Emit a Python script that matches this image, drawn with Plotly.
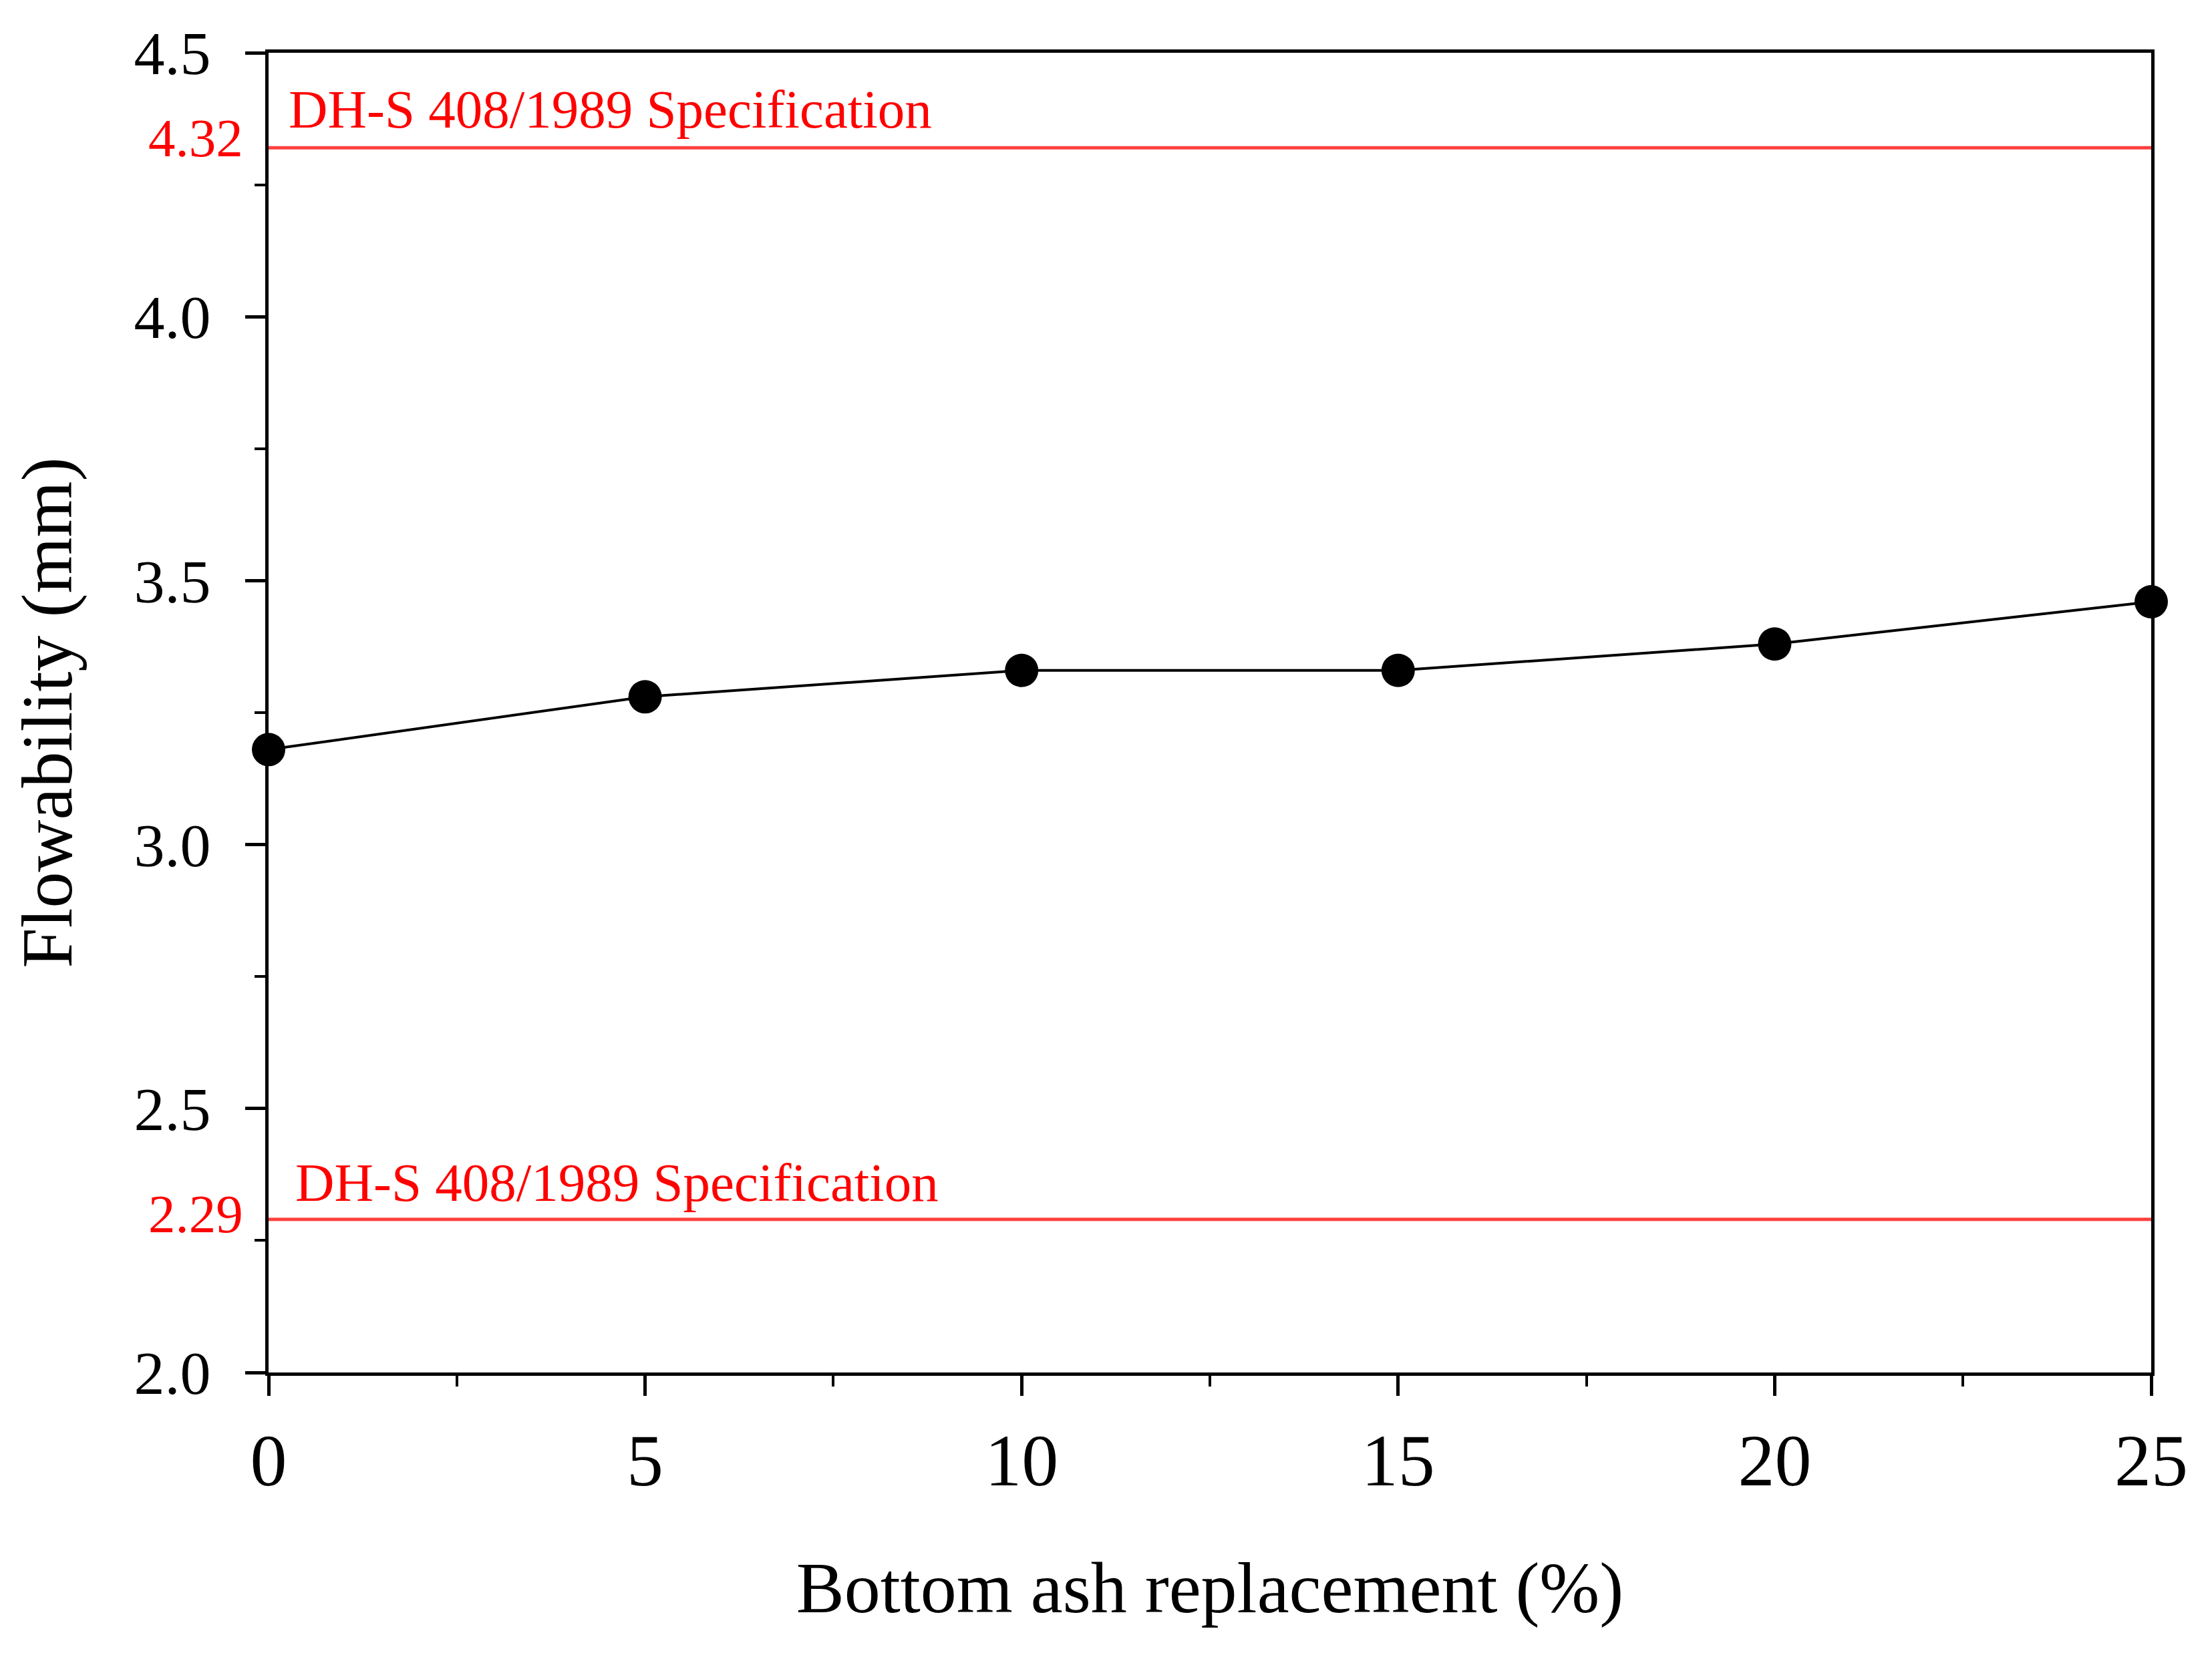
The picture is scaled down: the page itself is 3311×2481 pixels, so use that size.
import plotly.graph_objects as go

replacement = [0, 5, 10, 15, 20, 25]
flowability = [3.18, 3.28, 3.33, 3.33, 3.38, 3.46]
spec_limits = [4.32, 2.29]
spec_labels = ["4.32", "2.29"]
spec_text = "DH-S 408/1989 Specification"
x_title = "Bottom ash replacement (%)"
y_title = "Flowability (mm)"

FONT = "Liberation Serif, Times New Roman, serif"
RED_LINE = "#FF4040"
RED_TEXT = "#FF0000"

fig = go.Figure()
fig.add_trace(go.Scatter(
    x=replacement, y=flowability, mode="lines+markers",
    line=dict(color="black", width=4),
    marker=dict(color="black", size=50, line=dict(width=0)),
    cliponaxis=False, showlegend=False,
))

label_yshift = [14, 8]
text_xshift = [28, 38]
text_yshift = [10, 8]
for i, (val, lab) in enumerate(zip(spec_limits, spec_labels)):
    fig.add_shape(type="line", xref="paper", x0=0, x1=1, yref="y", y0=val, y1=val,
                  line=dict(color=RED_LINE, width=5), layer="below")
    fig.add_annotation(xref="paper", x=0, yref="y", y=val, text=lab, showarrow=False,
                       xanchor="right", yanchor="middle", xshift=-36, yshift=label_yshift[i],
                       font=dict(family=FONT, size=81, color=RED_TEXT))
    fig.add_annotation(xref="paper", x=0, yref="y", y=val, text=spec_text, showarrow=False,
                       xanchor="left", yanchor="bottom", xshift=text_xshift[i], yshift=text_yshift[i],
                       font=dict(family=FONT, size=81, color=RED_TEXT))

fig.update_layout(
    width=3311, height=2481,
    margin=dict(l=394, r=99, t=71, b=434),
    paper_bgcolor="white", plot_bgcolor="white",
    font=dict(family=FONT, color="black"),
)
fig.update_xaxes(
    range=[0, 25], tickvals=[0, 5, 10, 15, 20, 25], ticktext=["0", "5", "10", "15", "20", "25"],
    ticks="outside", ticklen=30, tickwidth=5, tickcolor="black",
    minor=dict(dtick=2.5, ticks="outside", ticklen=16, tickwidth=4, tickcolor="black"),
    showline=True, linewidth=5, linecolor="black", mirror=True,
    showgrid=False, zeroline=False,
    tickfont=dict(family=FONT, size=110, color="black"),
    ticklabelstandoff=2,
    title=dict(text=x_title, font=dict(family=FONT, size=108, color="black"), standoff=93),
)
fig.update_yaxes(
    range=[2.0, 4.5], tickvals=[2.0, 2.5, 3.0, 3.5, 4.0, 4.5],
    ticktext=["2.0", "2.5", "3.0", "3.5", "4.0", "4.5"],
    ticks="outside", ticklen=30, tickwidth=5, tickcolor="black",
    minor=dict(dtick=0.25, ticks="outside", ticklen=16, tickwidth=4, tickcolor="black"),
    showline=True, linewidth=5, linecolor="black", mirror=True,
    showgrid=False, zeroline=False,
    tickfont=dict(family=FONT, size=92, color="black"),
    ticklabelstandoff=33,
    title=dict(text=y_title, font=dict(family=FONT, size=108, color="black"), standoff=58),
)

fig.write_html("out.html")
